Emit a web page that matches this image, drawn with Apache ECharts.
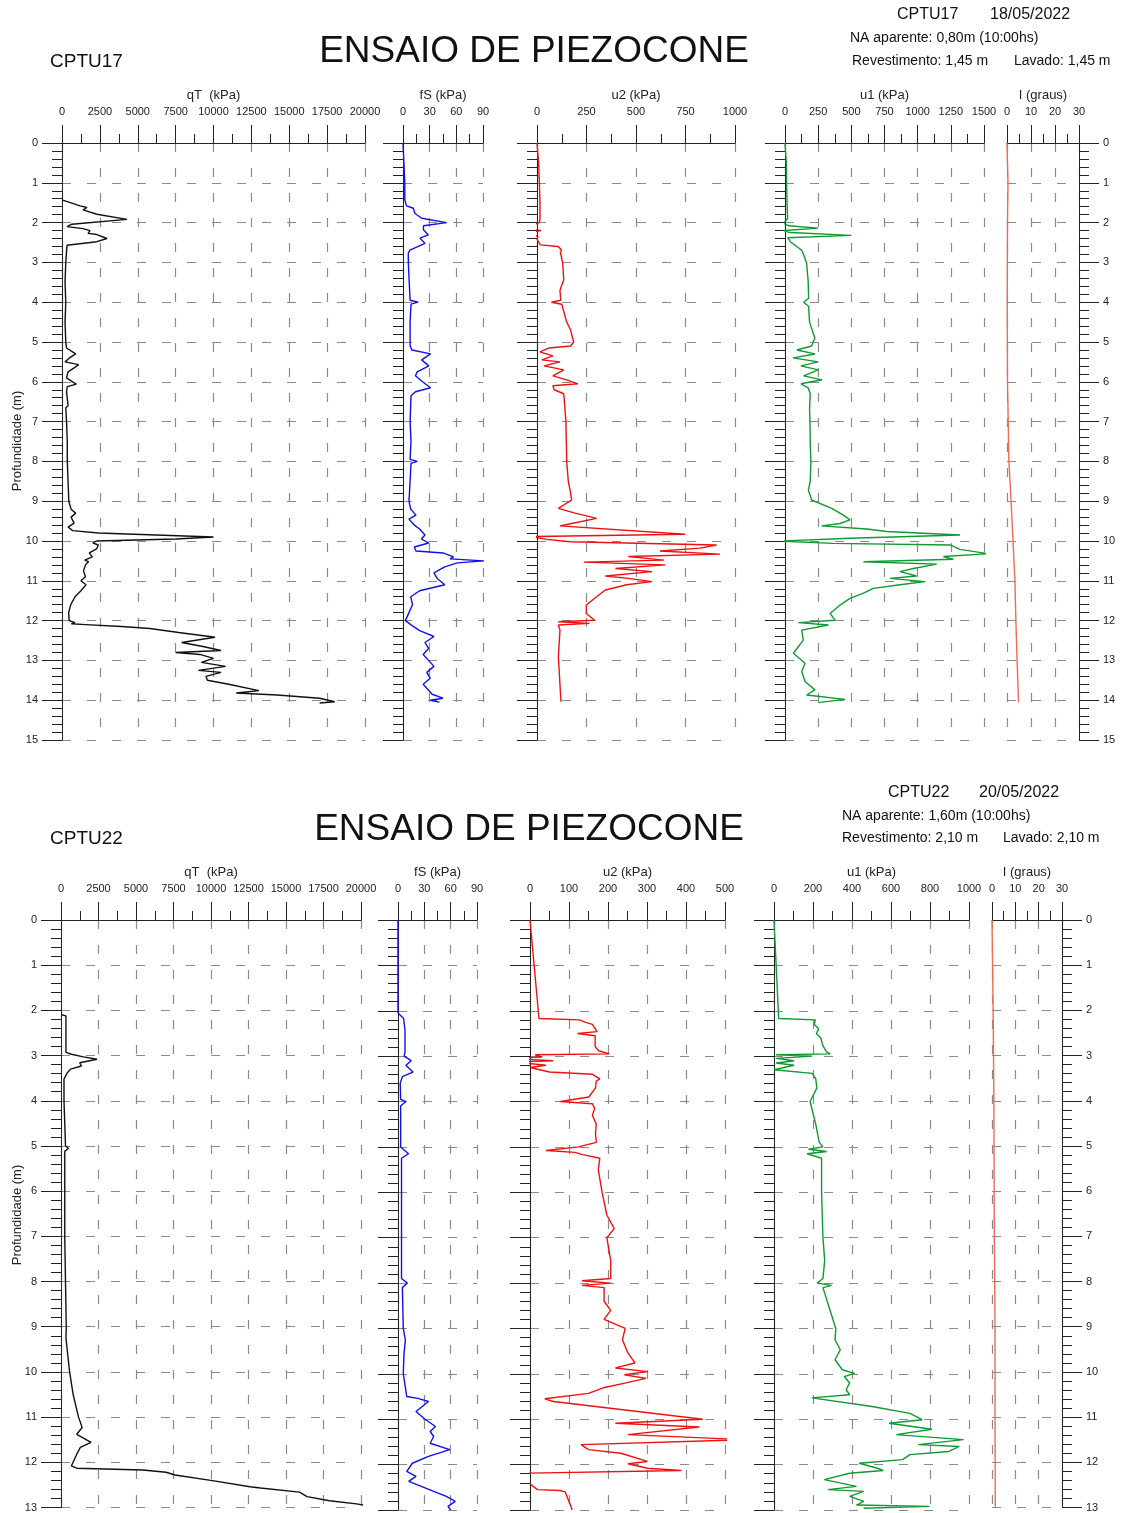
<!DOCTYPE html>
<html>
<head>
<meta charset="utf-8">
<script src="https://cdn.jsdelivr.net/npm/echarts@6/dist/echarts.min.js"></script>
<style>
  html, body { margin: 0; background: #fff; }
  #chart { width: 1127px; height: 1513px; }
</style>
</head>
<body>
<div id="chart"></div>
<script>
// ---- CPTU17 : [valor, profundidade] ----
const qT17 = [[0,1.43],[1190,1.58],[1650,1.62],[1390,1.68],[2300,1.79],[4290,1.92],[650,2.04],[330,2.1],[1390,2.15],[1850,2.2],[1720,2.27],[2300,2.3],[2970,2.4],[2300,2.48],[330,2.57],[300,2.73],[250,3.0],[200,3.5],[250,4.0],[200,4.5],[250,5.0],[300,5.15],[900,5.3],[500,5.4],[200,5.5],[1100,5.57],[800,5.65],[400,5.75],[300,5.9],[700,6.0],[950,6.06],[350,6.12],[300,6.25],[400,6.6],[250,6.65],[300,7.0],[350,7.5],[350,8.0],[400,8.5],[450,9.0],[600,9.2],[900,9.3],[600,9.4],[800,9.55],[400,9.65],[700,9.74],[2400,9.8],[10000,9.9],[7500,9.95],[2270,10.0],[2040,10.05],[2400,10.1],[2280,10.2],[1800,10.3],[2000,10.4],[1500,10.48],[1750,10.52],[1550,10.6],[1420,10.75],[1550,10.9],[1250,11.0],[1590,11.1],[1250,11.25],[860,11.4],[580,11.6],[440,11.8],[470,12.0],[860,12.05],[620,12.08],[1560,12.1],[3920,12.15],[5800,12.2],[7700,12.3],[10100,12.42],[7900,12.55],[9300,12.65],[10500,12.75],[7500,12.8],[9100,12.85],[10000,12.95],[9200,13.05],[10800,13.15],[9000,13.25],[10500,13.3],[9500,13.4],[9600,13.5],[11000,13.6],[13000,13.76],[11500,13.82],[14200,13.87],[17000,13.95],[18000,14.04],[17000,14.07]];
const fS17 = [[0,0],[1,0.5],[2,1.0],[2,1.43],[4,1.58],[11.6,1.64],[13.5,1.77],[21,1.89],[49,2.0],[23,2.08],[23,2.18],[28.5,2.31],[19,2.39],[24.7,2.52],[7.8,2.69],[6,2.76],[6,3.0],[7,3.5],[8,3.95],[17,4.0],[9,4.05],[8,4.5],[8,5.1],[10,5.2],[31,5.3],[21,5.45],[29,5.6],[16,5.75],[14,5.85],[22,6.0],[31,6.15],[14,6.25],[9,6.35],[8,7.0],[9,7.5],[8,7.95],[16,8.0],[9,8.05],[8,8.5],[6.7,9.0],[8.7,9.2],[14.6,9.35],[6.7,9.45],[12.7,9.6],[18.7,9.7],[24.7,9.85],[20.7,9.95],[28.8,10.05],[12.7,10.15],[14.6,10.25],[44.9,10.3],[56.9,10.4],[52.9,10.45],[91,10.5],[61,10.55],[47,10.65],[49,10.7],[34.8,10.8],[38.8,10.95],[47,11.1],[18.7,11.25],[8.7,11.4],[10.7,11.6],[6.7,11.8],[2.7,12.0],[8.7,12.1],[18.7,12.25],[34.8,12.4],[24.7,12.55],[28.8,12.7],[22.7,12.85],[28.8,13.0],[34.8,13.15],[26.7,13.3],[30.7,13.45],[22.7,13.6],[28.8,13.75],[32.8,13.85],[44.9,13.95],[30.7,14.0],[40.9,14.05]];
const u2_17 = [[0,0],[8,0.5],[12,1.0],[15,1.5],[15,1.9],[12,2.0],[-70,2.14],[20,2.2],[-55,2.27],[5,2.35],[0,2.42],[17,2.56],[107,2.6],[124,2.69],[118,2.75],[130,3.02],[135,3.44],[116,3.7],[120,3.95],[73,4.0],[125,4.05],[150,4.5],[170,4.7],[185,5.0],[170,5.1],[62,5.15],[15,5.25],[80,5.35],[25,5.45],[116,5.5],[36,5.6],[135,5.7],[80,5.85],[150,5.95],[207,6.05],[80,6.1],[87,6.2],[135,6.3],[140,6.6],[146,7.0],[148,7.5],[150,8.0],[158,8.5],[167,8.72],[175,8.97],[108,9.18],[192,9.3],[301,9.43],[175,9.56],[116,9.62],[747,9.83],[-27,9.89],[49,9.96],[167,10.02],[907,10.1],[823,10.18],[621,10.25],[924,10.33],[461,10.39],[641,10.48],[237,10.53],[648,10.6],[396,10.69],[581,10.77],[345,10.88],[461,10.94],[581,11.02],[453,11.1],[345,11.23],[301,11.4],[249,11.61],[249,11.82],[291,11.99],[108,12.03],[265,12.07],[108,12.11],[116,12.24],[108,12.91],[121,14.04]];
const u1_17 = [[0,0],[10,0.5],[12,1.0],[15,1.5],[20,1.9],[25,1.95],[-13,2.02],[30,2.08],[250,2.14],[-13,2.2],[40,2.25],[500,2.32],[20,2.38],[40,2.48],[88,2.6],[125,2.69],[140,2.8],[163,3.02],[175,3.5],[178,3.9],[140,4.0],[178,4.1],[185,4.5],[225,4.9],[200,5.1],[90,5.2],[225,5.3],[60,5.4],[250,5.5],[120,5.6],[250,5.7],[140,5.85],[280,5.95],[120,6.05],[175,6.15],[190,6.3],[185,6.7],[188,7.0],[190,7.5],[195,8.0],[190,8.5],[176,8.72],[201,8.97],[352,9.18],[440,9.35],[490,9.47],[415,9.56],[276,9.62],[615,9.7],[766,9.76],[1319,9.85],[490,9.93],[-38,10.0],[365,10.06],[1244,10.1],[1319,10.21],[1532,10.32],[1194,10.39],[1269,10.46],[591,10.52],[1143,10.58],[967,10.69],[867,10.77],[992,10.88],[791,10.94],[1055,11.02],[867,11.1],[666,11.19],[591,11.31],[490,11.44],[415,11.61],[340,11.82],[377,11.99],[101,12.05],[327,12.11],[126,12.24],[138,12.49],[63,12.82],[151,13.07],[126,13.28],[151,13.53],[226,13.74],[163,13.87],[452,13.98],[251,14.06]];
const I17 = [[0,0],[0.4,1.0],[0.2,2.0],[0.1,4.0],[0.2,6.0],[0.5,7.0],[0.8,8.0],[1.7,9.0],[2.5,10.0],[3.3,11.0],[3.7,12.0],[4.2,13.0],[4.8,14.05]];

// ---- CPTU22 ----
const qT22 = [[0,2.09],[330,2.12],[330,2.93],[690,2.97],[1500,3.03],[2400,3.08],[1250,3.16],[1360,3.23],[640,3.3],[420,3.38],[200,3.52],[200,4.0],[250,4.5],[300,5.0],[500,5.05],[250,5.12],[250,6.0],[250,7.0],[300,8.0],[350,9.0],[330,9.25],[570,9.99],[810,10.5],[1170,11.0],[1410,11.23],[1050,11.38],[2000,11.56],[1290,11.67],[1050,11.82],[690,12.08],[1050,12.13],[5460,12.17],[7000,12.22],[7600,12.28],[10200,12.41],[12600,12.54],[13300,12.57],[15900,12.66],[16400,12.76],[17900,12.85],[19700,12.92],[20400,12.96]];
const fS22 = [[0,0],[0,2.05],[1.6,2.09],[6.4,2.17],[8,2.43],[8,2.9],[7,3.0],[15,3.1],[9,3.2],[17,3.35],[5,3.45],[2.5,3.6],[3,3.95],[9,4.0],[3,4.1],[3,5.0],[12,5.15],[4,5.25],[4,6.0],[4,7.0],[4,7.9],[10.7,8.0],[5,8.1],[6,9.0],[8.4,9.25],[6.9,9.55],[6,9.99],[10,10.5],[22.6,10.54],[34.7,10.61],[20.5,10.83],[30.7,11.0],[42.7,11.16],[36.6,11.27],[40.7,11.38],[36.6,11.53],[59,11.67],[34.7,11.82],[16.3,11.97],[10,12.15],[20.5,12.26],[12.2,12.37],[26.5,12.48],[40.7,12.59],[55,12.7],[65.2,12.81],[57,12.92],[60,13.0]];
const u2_22 = [[0,0],[23,2.17],[127,2.2],[141,2.25],[160,2.3],[172,2.46],[122,2.5],[167,2.55],[167,2.79],[176,2.88],[203,2.95],[13,2.97],[31,3.02],[-48,3.05],[59,3.1],[-42,3.13],[41,3.2],[0,3.25],[50,3.35],[160,3.4],[179,3.5],[170,3.55],[168,3.7],[151,3.9],[78,4.0],[160,4.05],[166,4.15],[160,4.3],[170,4.5],[168,4.7],[170,4.9],[124,5.0],[41,5.08],[115,5.12],[135,5.17],[179,5.25],[175,5.5],[185,6.0],[197,6.5],[216,6.8],[197,7.0],[207,7.5],[207,7.9],[133,7.95],[207,8.0],[133,8.05],[190,8.1],[190,8.4],[207,8.6],[190,8.8],[244,9.0],[237,9.25],[251,9.54],[269,9.76],[219,9.87],[301,9.95],[242,10.02],[297,10.1],[246,10.2],[191,10.3],[150,10.43],[38,10.55],[60,10.61],[443,11.0],[219,11.09],[434,11.17],[251,11.34],[553,11.45],[131,11.56],[150,11.67],[233,11.75],[301,11.93],[251,11.98],[301,12.08],[388,12.13],[-23,12.19],[-25,12.26],[19,12.55],[77,12.57],[90,12.6],[105,12.92],[108,13.0]];
const u1_22 = [[0,0],[24,2.17],[212,2.2],[207,2.3],[230,2.4],[217,2.5],[240,2.6],[249,2.75],[268,2.9],[288,2.95],[11,2.97],[196,3.0],[11,3.05],[103,3.1],[11,3.15],[103,3.2],[0,3.3],[196,3.38],[214,3.5],[220,3.7],[185,4.0],[214,4.5],[232,4.9],[251,5.0],[177,5.05],[270,5.1],[170,5.15],[244,5.25],[244,6.0],[251,7.0],[260,7.5],[251,7.9],[221,8.0],[295,8.05],[251,8.1],[280,8.5],[317,9.0],[313,9.25],[340,9.47],[313,9.69],[350,9.91],[413,9.99],[360,10.06],[388,10.2],[370,10.35],[388,10.46],[194,10.53],[503,10.72],[697,10.87],[760,11.01],[590,11.09],[810,11.22],[627,11.34],[972,11.45],[740,11.56],[950,11.6],[897,11.71],[697,11.78],[660,11.89],[437,11.97],[530,12.08],[560,12.13],[388,12.19],[258,12.33],[423,12.48],[276,12.55],[460,12.59],[388,12.7],[460,12.81],[423,12.89],[797,12.92],[460,12.96]];
const I22 = [[0,0],[0.5,2.0],[0.8,4.0],[1.0,7.0],[1.3,9.0],[1.3,11.0],[1.4,13.0]];

const FONT = 'Liberation Sans, Arial, Helvetica, sans-serif';
const INK = '#222';
const dash = { color: '#8a8a8a', type: [9, 16], width: 1.2 };

const grid = [], xAxis = [], yAxis = [], series = [];

function track(t, top, height, maxD) {
  const i = grid.length;
  grid.push({ left: t.left, top: top, width: t.width, height: height, containLabel: false });
  xAxis.push({
    gridIndex: i, type: 'value', position: 'top', min: 0, max: t.max, interval: t.step,
    name: t.name, nameLocation: 'middle', nameGap: 41,
    nameTextStyle: { fontSize: 13, color: INK, fontFamily: FONT },
    axisLine: { show: true, lineStyle: { color: INK, width: 1 } },
    axisTick: { show: true, length: 18, lineStyle: { color: INK, width: 1 } },
    minorTick: { show: true, splitNumber: 2, length: 9, lineStyle: { color: INK, width: 1 } },
    axisLabel: { fontSize: 11, color: INK, margin: 26, fontFamily: FONT, formatter: v => String(v) },
    splitLine: { show: true, lineStyle: dash }
  });
  yAxis.push({
    gridIndex: i, type: 'value', inverse: true, min: 0, max: maxD, interval: 1,
    position: t.side || 'left',
    axisLine: { show: true, onZero: false, lineStyle: { color: INK, width: 1 } },
    axisTick: { show: true, length: 20, lineStyle: { color: INK, width: 1 } },
    minorTick: { show: true, splitNumber: 5, length: 10, lineStyle: { color: INK, width: 1 } },
    axisLabel: { show: !!t.labels, fontSize: 11, color: INK, margin: 24, fontFamily: FONT },
    splitLine: { show: true, lineStyle: dash }
  });
  series.push({
    type: 'line', xAxisIndex: i, yAxisIndex: i, data: t.data,
    symbol: 'none', clip: false, animation: false,
    lineStyle: { color: t.color, width: 1.4 }
  });
}

// CPTU17
[
  { left: 62, width: 303, max: 20000, step: 2500, name: 'qT  (kPa)', data: qT17, color: '#111', labels: true },
  { left: 403, width: 80, max: 90, step: 30, name: 'fS (kPa)', data: fS17, color: '#1010ee' },
  { left: 537, width: 198, max: 1000, step: 250, name: 'u2 (kPa)', data: u2_17, color: '#ee1111' },
  { left: 785, width: 199, max: 1500, step: 250, name: 'u1 (kPa)', data: u1_17, color: '#119933' },
  { left: 1007, width: 72, max: 30, step: 10, name: 'I (graus)', data: I17, color: '#f26a4f', side: 'right', labels: true }
].forEach(t => track(t, 143, 597, 15));

// CPTU22
[
  { left: 61, width: 300, max: 20000, step: 2500, name: 'qT  (kPa)', data: qT22, color: '#111', labels: true },
  { left: 398, width: 79, max: 90, step: 30, name: 'fS (kPa)', data: fS22, color: '#1010ee' },
  { left: 530, width: 195, max: 500, step: 100, name: 'u2 (kPa)', data: u2_22, color: '#ee1111' },
  { left: 774, width: 195, max: 1000, step: 200, name: 'u1 (kPa)', data: u1_22, color: '#119933' },
  { left: 992, width: 70, max: 30, step: 10, name: 'I (graus)', data: I22, color: '#f26a4f', side: 'right', labels: true }
].forEach(t => track(t, 920, 590, 13));

function txt(x, y, text, size, align) {
  return { type: 'text', x: x, y: y, silent: true,
    style: { text: text, fontSize: size, fontFamily: FONT, fill: '#111',
             textAlign: align || 'left', textVerticalAlign: 'middle' } };
}
function vtxt(x, y, text) {
  return { type: 'text', x: x, y: y, rotation: Math.PI / 2, silent: true,
    style: { text: text, fontSize: 13, fontFamily: FONT, fill: INK,
             textAlign: 'center', textVerticalAlign: 'middle' } };
}

const graphic = [
  txt(50, 62, 'CPTU17', 19),
  txt(534, 52, 'ENSAIO DE PIEZOCONE', 37, 'center'),
  txt(897, 15, 'CPTU17', 16),
  txt(990, 15, '18/05/2022', 16),
  txt(850, 38, 'NA aparente: 0,80m (10:00hs)', 14),
  txt(852, 61, 'Revestimento: 1,45 m', 14),
  txt(1014, 61, 'Lavado: 1,45 m', 14),
  vtxt(17, 441, 'Profundidade (m)'),

  txt(50, 839, 'CPTU22', 19),
  txt(529, 830, 'ENSAIO DE PIEZOCONE', 37, 'center'),
  txt(888, 793, 'CPTU22', 16),
  txt(979, 793, '20/05/2022', 16),
  txt(842, 816, 'NA aparente: 1,60m (10:00hs)', 14),
  txt(842, 838, 'Revestimento: 2,10 m', 14),
  txt(1003, 838, 'Lavado: 2,10 m', 14),
  vtxt(17, 1215, 'Profundidade (m)')
];

const chart = echarts.init(document.getElementById('chart'), null, { renderer: 'canvas' });
chart.setOption({
  backgroundColor: '#fff',
  animation: false,
  textStyle: { fontFamily: FONT },
  grid: grid,
  xAxis: xAxis,
  yAxis: yAxis,
  series: series,
  graphic: graphic
});
</script>
</body>
</html>
